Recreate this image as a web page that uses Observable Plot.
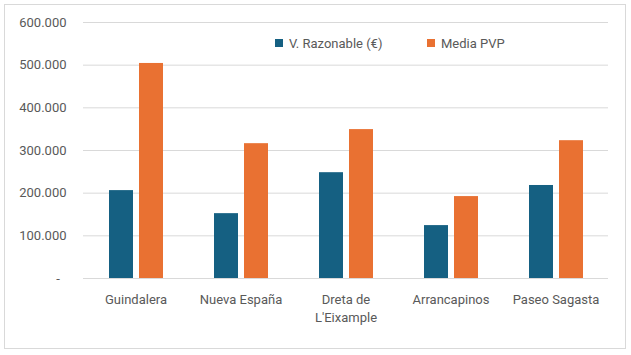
<!DOCTYPE html>
<html>
<head>
<meta charset="utf-8">
<script src="https://cdn.jsdelivr.net/npm/d3@7"></script>
<script src="https://cdn.jsdelivr.net/npm/@observablehq/plot@0.6"></script>
<style>
  html, body { margin: 0; padding: 0; background: #fff; }
  #wrap { position: relative; width: 631px; height: 355px; overflow: hidden; font-family: Roboto, sans-serif; }
  #frame { position: absolute; left: 4px; top: 4px; width: 622px; height: 345px; border: 1px solid #d9d9d9; box-sizing: border-box; pointer-events: none; }
  #legend { position: absolute; top: 34px; left: 0; font-size: 13px; color: #595959; }
  .item { position: absolute; white-space: nowrap; display: flex; align-items: center; height: 18px; }
  .sw { width: 8px; height: 8px; margin-right: 6px; display: inline-block; }
</style>
</head>
<body>
<div id="wrap"><div id="frame"></div><div id="legend"></div></div>
<script>
const categories = ["Guindalera", "Nueva España", "Dreta de L'Eixample", "Arrancapinos", "Paseo Sagasta"];
const tickLabels = ["Guindalera", "Nueva España", "Dreta de\nL'Eixample", "Arrancapinos", "Paseo Sagasta"];
const series = ["V. Razonable (€)", "Media PVP"];
const razonable = [206000, 152000, 248000, 124000, 218000];
const mediaPVP = [504000, 316000, 349000, 192000, 323000];
const colors = ["#156082", "#E97132"];
const yTicks = [0, 100000, 200000, 300000, 400000, 500000, 600000];

const data = categories.flatMap((c, i) => [
  {cat: c, series: series[0], value: razonable[i]},
  {cat: c, series: series[1], value: mediaPVP[i]}
]);

const fmt = d => d === 0 ? "-\u2002" : d3.format(",")(d).replace(/,/g, ".");

const chart = Plot.plot({
  width: 631,
  height: 355,
  marginTop: 22,
  marginBottom: 77,
  marginLeft: 83,
  marginRight: 23,
  style: {fontFamily: "Roboto, sans-serif", fontSize: "13px", color: "#595959", background: "transparent"},
  fx: {domain: categories, padding: 0, label: null},
  x: {domain: series, paddingInner: 0.2, paddingOuter: 0.85, axis: null},
  y: {domain: [0, 600000], label: null},
  color: {domain: series, range: colors},
  marks: [
    Plot.ruleY(yTicks, {stroke: "#d9d9d9", strokeWidth: 1}),
    Plot.barY(data, {fx: "cat", x: "series", y: "value", fill: "series"}),
    Plot.axisY({ticks: yTicks, tickSize: 0, tickPadding: 17, tickFormat: fmt, fill: "#595959", label: null}),
    Plot.axisFx({anchor: "bottom", tickSize: 0, tickPadding: 12, tickFormat: d => tickLabels[categories.indexOf(d)], lineHeight: 1.42, fill: "#595959", label: null})
  ]
});
chart.style.position = "absolute";
chart.style.left = "0";
chart.style.top = "0";
document.getElementById("wrap").prepend(chart);

const legend = document.getElementById("legend");
const legendX = [275, 427];
series.forEach((s, i) => {
  const it = document.createElement("div");
  it.className = "item";
  it.style.left = legendX[i] + "px";
  const sw = document.createElement("span");
  sw.className = "sw";
  sw.style.background = colors[i];
  it.appendChild(sw);
  it.appendChild(document.createTextNode(s));
  legend.appendChild(it);
});
</script>
</body>
</html>
